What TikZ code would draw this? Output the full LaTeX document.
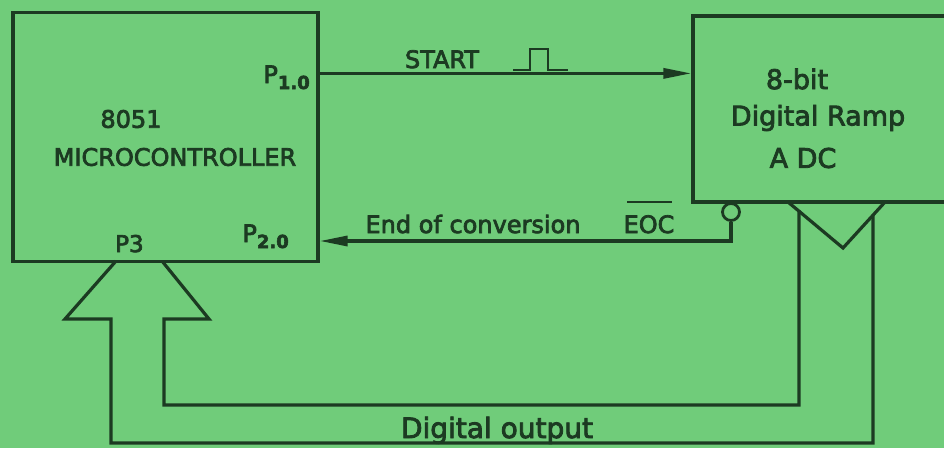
\documentclass[tikz,border=0pt]{standalone}
\usepackage{fontspec}
\setmainfont{DejaVu Sans}[FakeBold=3]
\usetikzlibrary{arrows.meta}
\definecolor{bg}{RGB}{112,204,122}
\definecolor{ink}{RGB}{28,58,34}
\tikzset{
  wire/.style={draw=ink, line width=3.2pt},
  sig/.style={wire, -{Triangle[length=28pt,width=10pt]}},
  blk/.style={draw=ink, line width=3.2pt, rectangle, inner sep=0pt},
  lbl/.style={text=ink, inner sep=0pt, font=\fontsize{24}{28}\selectfont},
  lblbig/.style={text=ink, inner sep=0pt, font=\fontsize{27}{31}\selectfont},
}
\begin{document}
\begin{tikzpicture}[x=1pt,y=-1pt]
\fill[bg] (0,0) rectangle (944,448);
\clip (0,0) rectangle (944,448);
% blocks
\node[blk, minimum width=305pt, minimum height=249pt] (mc) at (165.5,137) {};
\node[blk, minimum width=257pt, minimum height=186pt] (adc) at (821.5,109) {};
% texts in MC
\node[lbl] (t8051) at (131,119) {8051};
\node[lbl] (tmc) at (175,157) {MICROCONTROLLER};
\node[lbl, anchor=base east] (p10) at (310,83) {P\raisebox{-6pt}{\fontsize{18}{20}\selectfont\bfseries 1.0}};
\node[lbl, anchor=base east] (p20) at (289,242) {P\raisebox{-6pt}{\fontsize{18}{20}\selectfont\bfseries 2.0}};
\node[lbl, anchor=base west, font=\fontsize{23}{26}\selectfont] (p3) at (115,252) {P3};
% texts in ADC
\node[lblbig] (t8bit) at (797,79) {8-bit};
\node[lblbig] (tdr) at (818,118) {Digital Ramp};
\node[lblbig] (tadc) at (803,158) {A DC};
% START
\draw[sig] (mc.east |- p10.center) ++(0,-4) coordinate (s0) -- (adc.west |- s0);
\node[lbl, anchor=base] (tstart) at (442,68) {START};
\draw[ink, line width=2.6pt] (513,70) -- (530,70) -- (530,49) -- (548,49) -- (548,70) -- (568,70);
% EOC
\node[draw=ink, line width=2.8pt, circle, minimum size=17pt, inner sep=0pt] (bub) at (731,212) {};
\draw[sig] (bub.south) |- (mc.east |- 0,241);
\node[lbl, anchor=base] (teoc) at (473,233) {End of conversion};
\node[lbl, anchor=base] (teoc2) at (649,233) {EOC};
\draw[ink, line width=2.6pt] (627,202) -- (672,202);
% digital output bus
\draw[wire, line join=miter] (788,202) -- (843,248) -- (885,202);
\draw[wire, line join=miter] (873,215) -- (873,443) -- (111,443) -- (111,319) -- (65,319) -- (116,261);
\draw[wire, line join=miter] (799,210) -- (799,405) -- (164,405) -- (164,319) -- (209,319) -- (162,261);
\node[lbl, anchor=base, font=\fontsize{28}{32}\selectfont] (tdo) at (497,438) {Digital output};
\end{tikzpicture}
\end{document}
